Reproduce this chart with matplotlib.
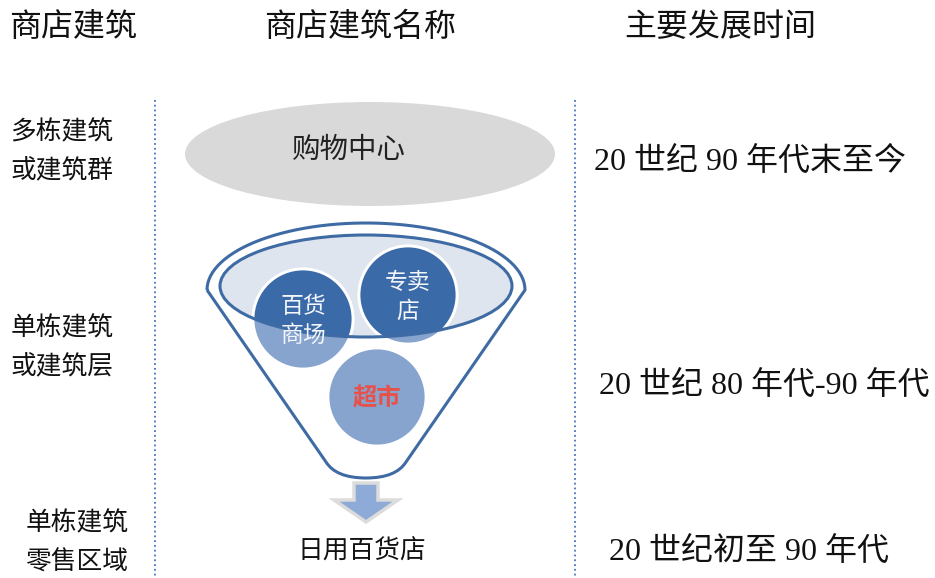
import numpy as np
import matplotlib
matplotlib.use('Agg')
import matplotlib.pyplot as plt
from matplotlib.patches import Ellipse, Circle, PathPatch, Polygon
from matplotlib.path import Path

plt.rcParams['font.family'] = ['Noto Sans CJK SC', 'DejaVu Sans']

# Column headers, building tiers, store types and periods
headers = ['商店建筑', '商店建筑名称', '主要发展时间']
tiers = ['多栋建筑\n或建筑群', '单栋建筑\n或建筑层', '单栋建筑\n零售区域']
top_store = '购物中心'
funnel_stores = ['百货\n商场', '专卖\n店', '超市']
base_store = '日用百货店'
periods = ['20 世纪 90 年代末至今', '20 世纪 80 年代-90 年代', '20 世纪初至 90 年代']

W, H = 935, 578
fig = plt.figure(figsize=(W / 100, H / 100), dpi=100)
ax = fig.add_axes([0, 0, 1, 1])
ax.set_xlim(0, W)
ax.set_ylim(H, 0)
ax.axis('off')

serif = ['Liberation Serif', 'Noto Sans CJK SC']
blue = '#3f6ba5'

# headers
for x, s in zip([73, 360, 720], headers):
    ax.text(x, 27, s, ha='center', va='center', fontsize=23, color='#111111')

# dotted column separators
for x in [155, 575]:
    ax.plot([x, x], [100, H], ls=':', color='#4472c4', lw=1.3)

# left column labels
for (x, y), s in zip([(62, 152), (62, 348), (77, 543)], tiers):
    ax.text(x, y, s, ha='center', va='center', fontsize=18.5,
            linespacing=1.68, color='#111111')

# right column periods
for (x, y), s in zip([(750, 162), (764, 386), (749, 552)], periods):
    ax.text(x, y, s, ha='center', va='center', fontsize=23,
            family=serif, color='#111111')

# shopping center ellipse
ax.add_patch(Ellipse((370, 154), 370, 104, facecolor='#d9d9d9', edgecolor='none'))
ax.text(349, 150, top_store, ha='center', va='center', fontsize=20.5, color='#222222')

# funnel body: top arc of outer rim, sides, rounded bottom
cx, cy, rx, ry = 366, 290, 159, 67
t = np.linspace(np.pi, 2 * np.pi, 60)
arc = np.column_stack([cx + rx * np.cos(t), cy + ry * np.sin(t)])
verts = list(map(tuple, arc))
codes = [Path.MOVETO] + [Path.LINETO] * (len(verts) - 1)
verts += [(406, 462), (396, 478), (366, 478), (336, 478), (326, 462), (cx - rx, cy)]
codes += [Path.LINETO, Path.CURVE3, Path.CURVE3, Path.CURVE3, Path.CURVE3, Path.LINETO]
body = PathPatch(Path(verts, codes), facecolor='white', edgecolor=blue, lw=2.2, zorder=2)
ax.add_patch(body)

# inner rim
rim = Ellipse((366, 286), 292, 102, facecolor='#dfe5ef', edgecolor='none', zorder=3)
ax.add_patch(rim)

circles = [((303, 319), 50), ((408, 295), 49), ((377, 397), 49)]
for (c, r) in circles:
    ax.add_patch(Circle(c, r, facecolor='#87a4cf', edgecolor='white', lw=2, zorder=4))
    dark = Circle(c, r, facecolor='#3b6aa9', edgecolor='white', lw=2, zorder=5)
    ax.add_patch(dark)
    dark.set_clip_path(rim)

ax.add_patch(Ellipse((366, 286), 292, 102, facecolor='none', edgecolor=blue,
                     lw=2.2, zorder=6))

for (c, r), s in zip(circles, funnel_stores):
    bold = s == '超市'
    ax.text(c[0], c[1] + 2, s, ha='center', va='center',
            fontsize=17.5 if bold else 16.5,
            linespacing=1.3, zorder=7,
            color='#e8504a' if bold else '#f4f6fa',
            fontweight='bold' if bold else 'normal')

# arrow below the funnel
arrow = Polygon([(354, 483), (378, 483), (378, 500), (398, 500), (366, 522),
                 (334, 500), (354, 500)], closed=True,
                facecolor='#8eaad6', edgecolor='#dcdcdc', lw=2.5, zorder=2)
ax.add_patch(arrow)

ax.text(362, 552, base_store, ha='center', va='center', fontsize=18.5, color='#111111')

fig.savefig('out.png', dpi=100)
